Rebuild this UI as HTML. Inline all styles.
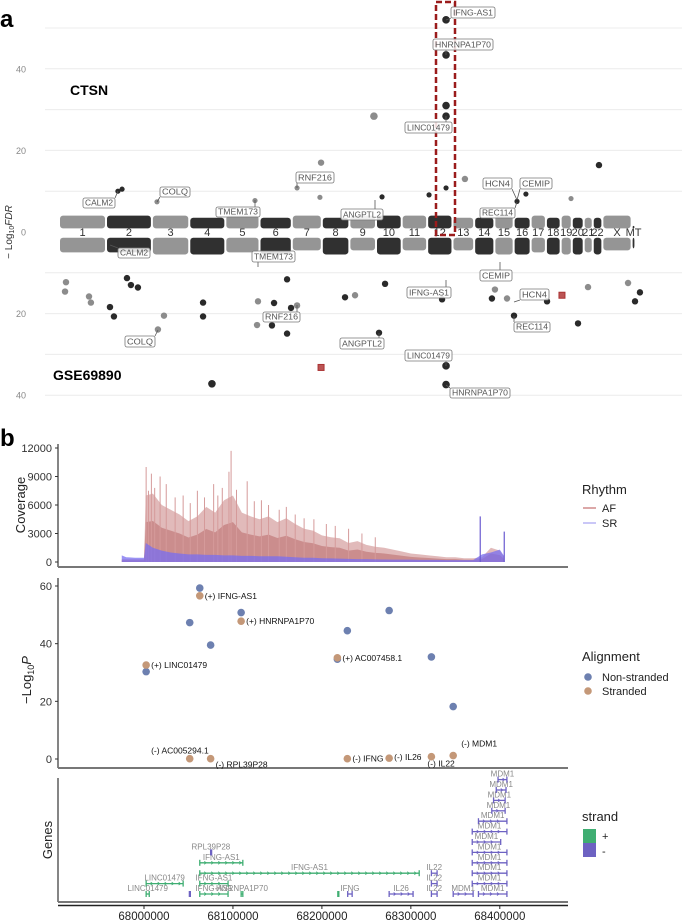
<!DOCTYPE html>
<html><head><meta charset="utf-8">
<style>
body{margin:0;background:#fff;}
svg{display:block;font-family:"Liberation Sans",sans-serif;}
</style></head>
<body>
<svg id="fig" width="682" height="922" viewBox="0 0 682 922">
<text x="0" y="27" font-size="24" font-weight="bold">a</text>
<text x="0" y="446" font-size="24" font-weight="bold">b</text>
<g id="pa"></g>
<g id="pb1"></g>
<g id="pb2"></g>
<g id="pb3"></g>
<g id="leg"></g>
</svg>
<script>
// ---------- Panel a data ----------
const chromNames=["1","2","3","4","5","6","7","8","9","10","11","12","13","14","15","16","17","18","19","20","21","22","X","MT"];
const chromSizes=[249,243,198,191,181,171,159,146,141,136,135,134,115,107,102,90,81,78,59,63,48,51,155,20];
const bandUpper=[4,4,4,3.5,4,3.5,4,3.5,4,4,4,4,3.5,3.5,4,3.5,4,3.5,4,3.5,3.5,3.5,4,1.5];
const bandLower=[-5,-5,-5.5,-5.5,-5,-5.5,-4.5,-5.5,-4.5,-5.5,-4.5,-5.5,-4.5,-5.5,-5.5,-5.5,-5,-5.5,-5.5,-5.5,-5,-5.5,-4.5,-4];
const upGpos=[2050,2050,2050,2050,1668,1388,2860,2150,2050,312,334,2473,1382,1711,1261,519,2426,2712,1038,1960];
const upVals=[52,43.4,31,28.4,28.4,17,16.4,13,10.8,10,10.5,9.3,8.5,8.6,10.8,7.4,7.5,8.2,7.7,9.1];
const loGpos=[2050,2050,810,1695,1208,1128,1049,524,556,291,270,763,763,2410,2749,2029,2293,3051,3077,169,32,37,159,1054,1261,1229,1139,1568,1515,2585,2373,1727,2309,3014,2802,418,381,360,1208];
const loVals=[-32.8,-37.4,-37.2,-24.7,-24.9,-22.9,-22.8,-23.9,-20.5,-20.7,-18.4,-20.7,-17.3,-20.5,-22.4,-16.5,-16.3,-17,-14.8,-17.3,-14.6,-12.3,-15.8,-17,-18,-18.6,-17.4,-15.5,-16,-17,-16.3,-12.7,-14.1,-12.5,-13.5,-13.6,-13,-11.3,-11.6];
const redGpos=[1388,2664];
const redVals=[-33.2,-15.5];
const aTicks=[40,20,0,20,40];
const aTickVals=[40,20,0,-20,-40];

// ---------- Panel b data ----------
const covPos=[67975,67980,67990,68000,68002,68010,68020,68030,68040,68050,68060,68070,68080,68090,68100,68110,68120,68130,68140,68150,68160,68170,68180,68190,68200,68210,68220,68230,68240,68250,68260,68270,68280,68290,68300,68310,68320,68330,68340,68350,68360,68370,68380,68390,68400,68405];
const afVals=[300,300,300,300,7000,7200,6000,5500,5000,4300,4800,5800,5200,6500,7000,5200,4800,4500,4800,4200,4600,4000,3500,3300,2800,2600,2500,2000,2200,1800,1600,1500,1300,1100,900,800,700,600,500,500,400,400,500,1500,1200,500];
const srVals=[700,500,450,450,2000,1500,1200,1000,900,800,800,750,750,700,700,650,650,600,600,600,550,500,450,450,400,380,350,330,300,300,280,260,250,250,250,230,220,220,200,200,200,200,800,1000,1300,600];
const afSpikePos=[68002.4,68005,68008.3,68012,68018.1,68025,68035,68044,68052,68060,68068,68078.3,68083,68088,68095.5,68097.9,68104,68116,68124,68132,68140,68152,68160,68170,68180,68191,68205,68215,68230,68245,68260];
const afSpikeVals=[10000,7500,9300,7800,9000,8200,6800,7000,6200,7500,6800,8200,7000,7800,9500,11700,7600,8500,6400,6500,6000,5500,5800,5000,4600,4500,4000,3800,3500,3000,2600];
const srSpikePos=[68378,68405];
const srSpikeVals=[4800,3200];
const covTicks=[0,3000,6000,9000,12000];

const nsPos=[68062.7,68051.4,68074.9,68109.2,68002.4,68228.6,68275.6,68217.4,68323.1,68347.6];
const nsVals=[59.3,47.3,39.5,50.8,30.3,44.5,51.5,34.6,35.4,18.2];
const stPos=[68062.7,68109.2,68002.4,68217.4,68051.4,68074.9,68228.6,68275.6,68323.1,68347.6];
const stVals=[56.6,47.8,32.6,35.1,0.1,0.1,0.1,0.3,0.8,1.2];
const stLabels=["(+) IFNG-AS1","(+) HNRNPA1P70","(+) LINC01479","(+) AC007458.1","(-) AC005294.1","(-) RPL39P28","(-) IFNG","(-) IL26","(-) IL22","(-) MDM1"];
const pTicks=[0,20,40,60];
const xTicks=[68000000,68100000,68200000,68300000,68400000];

const geneNames=["LINC01479","LINC01479","IFNG-AS1","HNRNPA1P70","IFNG-AS1","IFNG-AS1","IFNG-AS1","AC007458.1","AC005294.1","RPL39P28","IFNG","IL26","IL22","IL22","IL22","MDM1","MDM1","MDM1","MDM1","MDM1","MDM1","MDM1","MDM1","MDM1","MDM1","MDM1","MDM1","MDM1"];
const geneStart=[68002.4,68002.4,68062.7,68109.2,68062.7,68062.7,68062.7,68217.9,68051.0,68074.9,68229.0,68275.6,68323.1,68323.1,68323.1,68347.6,68376.0,68369.0,68369.0,68369.0,68369.0,68369.0,68369.0,68376.0,68391.0,68393.0,68396.0,68398.0];
const geneEnd=[68005.9,68044.0,68094.5,68111.1,68094.5,68309.4,68111.1,68218.5,68051.6,68075.5,68234.0,68302.5,68329.5,68329.5,68329.5,68370.0,68408.0,68408.0,68408.0,68408.0,68408.0,68401.0,68408.0,68408.0,68406.0,68406.0,68407.0,68408.0];
const geneStrand=["+","+","+","+","+","+","+","+","-","-","-","-","-","-","-","-","-","-","-","-","-","-","-","-","-","-","-","-"];
const geneRow=[0,1,0,0,1,2,3,0,0,4,0,0,0,1,2,0,0,1,2,3,4,5,6,7,8,9,10,11];

// ---------- helpers ----------
const NS="http://www.w3.org/2000/svg";
function mk(parent,tag,attrs,txt){const e=document.createElementNS(NS,tag);for(const k in attrs)e.setAttribute(k,attrs[k]);if(txt!==undefined)e.textContent=txt;parent.appendChild(e);return e;}

// ---------- Panel a ----------
const pa=document.getElementById('pa');
const gx=g=>59+g*0.1888;
const ya=v=>232-v*4.08;
for(let i=-4;i<=5;i++){if(i===0)continue;const l=mk(pa,'line',{x1:45,x2:682,y1:ya(i*10),y2:ya(i*10),stroke:'#ececec','stroke-width':1});

}
aTickVals.forEach((v,i)=>{const t=mk(pa,'text',{x:26,y:ya(v)+3.5,'font-size':9,fill:'#888','text-anchor':'end'},aTicks[i]);

});
const at=mk(pa,'text',{x:0,y:0,'font-size':10,fill:'#333','text-anchor':'middle',transform:'translate(12,232) rotate(-90)'});


at.innerHTML='− Log<tspan font-size="7" dy="2">10</tspan><tspan dy="-2" font-style="italic">FDR</tspan>';
let cum=0;const chromCol=[];const bounds=[];
chromSizes.forEach((s,i)=>{
 bounds.push(cum);
 const col=i%2===0?'#8c8c8c':'#1e1e1e';chromCol.push(col);
 const x0=gx(cum),x1=gx(cum+s);
 const r1=mk(pa,'rect',{x:x0+1,y:ya(bandUpper[i]),width:x1-x0-2,height:ya(0.9)-ya(bandUpper[i]),fill:col,rx:3,opacity:0.92});
 
 
 const r2=mk(pa,'rect',{x:x0+1,y:ya(-1.4),width:x1-x0-2,height:ya(bandLower[i])-ya(-1.4),fill:col,rx:3,opacity:0.92});
 
 
 const t=mk(pa,'text',{x:(x0+x1)/2,y:236,'font-size':11,fill:'#333','text-anchor':'middle'},chromNames[i]);
 
 
 cum+=s;});
function colFor(g){let c=0;for(let i=0;i<bounds.length;i++)if(g>=bounds[i])c=i;return chromCol[c]==='#1e1e1e'?'#2a2a2a':'#8c8c8c';}
upGpos.forEach((g,i)=>{const r=upVals[i]>25?3.8:(upVals[i]>12?3.2:2.6);
 const c=mk(pa,'circle',{cx:gx(g),cy:ya(upVals[i]),r:r,fill:colFor(g)});
 
 });
loGpos.forEach((g,i)=>{const r=loVals[i]<-25?3.8:3.2;
 const c=mk(pa,'circle',{cx:gx(g),cy:ya(loVals[i]),r:r,fill:colFor(g)});
 
 });
redGpos.forEach((g,i)=>{const x=gx(g),y=ya(redVals[i]);
 const r=mk(pa,'rect',{x:x-3,y:y-3,width:6,height:6,fill:'#b55',stroke:'#a33'});
 
 });
const box=mk(pa,'rect',{x:436,y:2,width:19,height:233,fill:'none',stroke:'#9b1c1c','stroke-width':2.5,'stroke-dasharray':'6,3'});


const labelsA=[["IFNG-AS1",451,7,495,18,446,20],["HNRNPA1P70",433,39,493,50,446,55],["LINC01479",405,122,452,133,446,116],["RNF216",296,172,334,183,297,188],["CALM2",83,198,115,208,118,191],["COLQ",160,187,190,197,157,202],["TMEM173",216,207,260,217,255,200],["ANGPTL2",341,209,383,220,375,200],["HCN4",483,178,512,189,517,200],["CEMIP",520,178,552,189,517,200],["REC114",480,208,515,218,517,202],
["CALM2",118,248,150,258,110,245],["TMEM173",252,251,295,262,258,267],["IFNG-AS1",407,287,451,298,446,280],["CEMIP",480,270,512,281,500,262],["HCN4",520,289,549,300,514,302],["RNF216",263,312,300,322,297,305],["REC114",514,322,550,332,514,316],["COLQ",125,336,155,347,158,330],["ANGPTL2",340,338,384,349,379,333],["LINC01479",405,350,452,361,446,366],["HNRNPA1P70",450,388,510,398,446,385]];
labelsA.forEach(L=>{
 const ln=mk(pa,'line',{x1:L[5],y1:L[6],x2:Math.min(Math.max(L[5],L[1]),L[3]),y2:L[6]<L[2]?L[2]:L[4],stroke:'#555','stroke-width':0.8});
 
 
 const r=mk(pa,'rect',{x:L[1],y:L[2],width:L[3]-L[1],height:L[4]-L[2],fill:'rgba(255,255,255,0.85)',stroke:'#777','stroke-width':0.8,rx:2});
 
 
 const t=mk(pa,'text',{x:(L[1]+L[3])/2,y:L[4]-2.5,'font-size':8.5,fill:'#555','text-anchor':'middle',textLength:L[3]-L[1]-4,lengthAdjust:'spacingAndGlyphs'},L[0]);
 
 });
const ct=mk(pa,'text',{x:70,y:95,'font-size':14,'font-weight':'bold'},'CTSN');


const gt=mk(pa,'text',{x:53,y:380,'font-size':14,'font-weight':'bold'},'GSE69890');



// ---------- Panel b scales ----------
const xg=k=>144+(k-68000)*0.8895;
const xgb=g=>144+(g-68000000)*0.8895/1000;
const yc=v=>562-v*(114/12000);
const yp=v=>759-v*(173/60);

// coverage
const p1=document.getElementById('pb1');
const ax1=mk(p1,'line',{x1:58,y1:444,x2:58,y2:567,stroke:'#333','stroke-width':1.2});


const bx1=mk(p1,'line',{x1:58,y1:567,x2:568,y2:567,stroke:'#777','stroke-width':2});


covTicks.forEach(v=>{const t=mk(p1,'text',{x:52,y:yc(v)+4,'font-size':11,fill:'#333','text-anchor':'end'},v);


const tk=mk(p1,'line',{x1:55,x2:58,y1:yc(v),y2:yc(v),stroke:'#333'});

});
const ctl=mk(p1,'text',{x:0,y:0,'font-size':13,fill:'#222','text-anchor':'middle',transform:'translate(25,505) rotate(-90)'},'Coverage');


function area(vals,fill,nm){let d='M'+xg(covPos[0])+','+yc(0);covPos.forEach((p,i)=>{d+=' L'+xg(p)+','+yc(vals[i]);});d+=' L'+xg(covPos[covPos.length-1])+','+yc(0)+'Z';const a=mk(p1,'path',{d:d,fill:fill});

}
area(afVals,'rgba(205,140,140,0.6)','af-coverage-area');
area(afVals.map(v=>v*0.6),'rgba(195,125,125,0.75)','af-coverage-core');
afSpikePos.forEach((p,i)=>{const l=mk(p1,'line',{x1:xg(p),x2:xg(p),y1:yc(0),y2:yc(afSpikeVals[i]),stroke:'#d59a9a','stroke-width':1});

});
area(srVals,'rgba(120,110,240,0.75)','sr-coverage-area');
srSpikePos.forEach((p,i)=>{const l=mk(p1,'line',{x1:xg(p),x2:xg(p),y1:yc(0),y2:yc(srSpikeVals[i]),stroke:'#6a5ad0','stroke-width':1.2});

});

// p-values
const p2=document.getElementById('pb2');
const ax2=mk(p2,'line',{x1:58,y1:578,x2:58,y2:768,stroke:'#333','stroke-width':1.2});


const bx2=mk(p2,'line',{x1:58,y1:768,x2:568,y2:768,stroke:'#777','stroke-width':2});


pTicks.forEach(v=>{const t=mk(p2,'text',{x:52,y:yp(v)+4,'font-size':11,fill:'#333','text-anchor':'end'},v);


const tk=mk(p2,'line',{x1:55,x2:58,y1:yp(v),y2:yp(v),stroke:'#333'});

});
const pt=mk(p2,'text',{x:0,y:0,'font-size':13,fill:'#222','text-anchor':'middle',transform:'translate(31,680) rotate(-90)'});


pt.innerHTML='−Log<tspan font-size="9" dy="3">10</tspan><tspan dy="-3" font-style="italic">P</tspan>';
nsPos.forEach((p,i)=>{const c=mk(p2,'circle',{cx:xg(p),cy:yp(nsVals[i]),r:3.8,fill:'#6d80b0'});

});
const lblOff=[[5,3,'start'],[5,3,'start'],[5,3,'start'],[5,3,'start'],[-5,-5,'end'],[5,9,'start'],[5,3,'start'],[5,2,'start'],[-4,10,'start'],[8,-9,'start']];
stPos.forEach((p,i)=>{const c=mk(p2,'circle',{cx:xg(p),cy:yp(stVals[i]),r:3.8,fill:'#c49878'});


const o=lblOff[i];let x=xg(p)+o[0];if(i===4)x=xg(p)+19;
const t=mk(p2,'text',{x:x,y:yp(stVals[i])+o[1],'font-size':8.5,fill:'#111','text-anchor':o[2]},stLabels[i]);

});

// genes
const p3=document.getElementById('pb3');
const ax3=mk(p3,'line',{x1:58,y1:778,x2:58,y2:902,stroke:'#333','stroke-width':1.2});


const bx3=mk(p3,'line',{x1:58,y1:902,x2:568,y2:902,stroke:'#777','stroke-width':2});


const bx4=mk(p3,'line',{x1:58,y1:905.5,x2:568,y2:905.5,stroke:'#222','stroke-width':1.5});


xTicks.forEach(v=>{const tk=mk(p3,'line',{x1:xgb(v),x2:xgb(v),y1:905,y2:909,stroke:'#222'});


const t=mk(p3,'text',{x:xgb(v),y:920,'font-size':11.5,fill:'#222','text-anchor':'middle'},v);

});
const gtl=mk(p3,'text',{x:0,y:0,'font-size':13,fill:'#222','text-anchor':'middle',transform:'translate(52,840) rotate(-90)'},'Genes');


const gy=r=>894-r*10.4;
geneNames.forEach((n,i)=>{const col=geneStrand[i]==='+'?'#3fae72':'#6d62c2';
 const x0=xg(geneStart[i]),x1=xg(geneEnd[i]),y=gy(geneRow[i]);
 const g=mk(p3,'g',{});
 
 
 mk(g,'line',{x1:x0,x2:Math.max(x1,x0+1),y1:y,y2:y,stroke:col,'stroke-width':1.3});
 mk(g,'line',{x1:x0,x2:x0,y1:y-3,y2:y+3,stroke:col,'stroke-width':1.3});
 mk(g,'line',{x1:Math.max(x1,x0+1),x2:Math.max(x1,x0+1),y1:y-3,y2:y+3,stroke:col,'stroke-width':1.3});
 for(let x=x0+6;x<x1-2;x+=7){mk(g,'path',{d:`M${x-1.5},${y-1.5} L${x+0.5},${y} L${x-1.5},${y+1.5}`,stroke:col,fill:'none','stroke-width':0.8});}
 if(n.indexOf('AC0')!==0){const t=mk(g,'text',{x:(x0+x1)/2,y:y-3,'font-size':8,fill:'#888','text-anchor':'middle'},n);
 
 }
});

// ---------- legends ----------
const lg=document.getElementById('leg');
function T(x,y,s,txt,nm){const t=mk(lg,'text',{x:x,y:y,'font-size':s,fill:'#222'},txt);

}
T(582,494,13,'Rhythm','rhythm-legend-title');
mk(lg,'line',{x1:583,x2:596,y1:508,y2:508,stroke:'#d08a8a','stroke-width':1.5});
mk(lg,'line',{x1:583,x2:596,y1:523,y2:523,stroke:'#b8b4f4','stroke-width':1.5});
T(602,512,11,'AF','legend-af');T(602,527,11,'SR','legend-sr');
T(582,661,13,'Alignment','alignment-legend-title');
mk(lg,'circle',{cx:588,cy:677,r:3.8,fill:'#6d80b0'});
mk(lg,'circle',{cx:588,cy:691,r:3.8,fill:'#c49878'});
T(602,681,11,'Non-stranded','legend-non-stranded');T(602,695,11,'Stranded','legend-stranded');
T(582,821,13,'strand','strand-legend-title');
mk(lg,'rect',{x:583,y:829,width:13,height:14,fill:'#3fae72'});
mk(lg,'rect',{x:583,y:843,width:13,height:14,fill:'#6d62c2'});
T(602,840,11,'+','legend-plus');T(602,855,11,'-','legend-minus');
</script>
</body></html>
